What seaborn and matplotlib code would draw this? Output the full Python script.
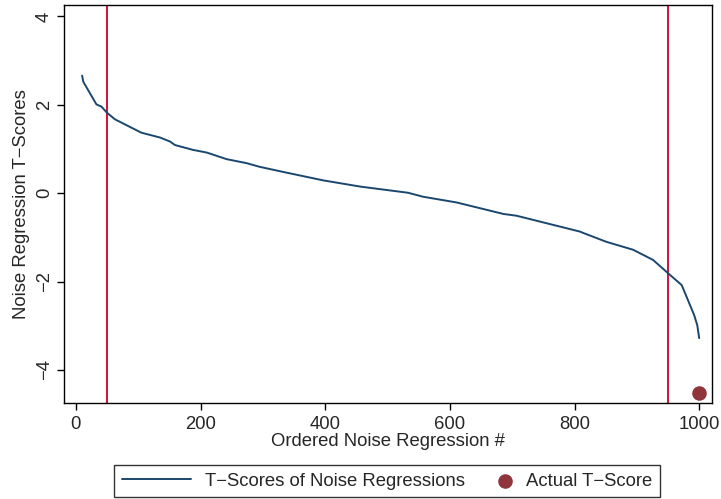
import matplotlib
matplotlib.use("Agg")
import matplotlib.pyplot as plt
from matplotlib.legend_handler import HandlerPathCollection
import pandas as pd
import seaborn as sns

# Sorted t-scores from the noise regressions
order_idx = [10, 12, 33, 41, 50, 63, 105, 135, 151, 159, 188, 210, 242, 274, 294,
             333, 397, 456, 533, 557, 611, 686, 707, 809, 814, 851, 894, 926,
             950, 972, 982, 992, 997, 1000]
t_scores = [2.66, 2.52, 2.01, 1.96, 1.82, 1.67, 1.37, 1.26, 1.17, 1.09, 0.98, 0.92,
            0.77, 0.68, 0.60, 0.48, 0.29, 0.15, 0.01, -0.08, -0.21, -0.47, -0.51,
            -0.87, -0.90, -1.10, -1.28, -1.51, -1.81, -2.08, -2.42, -2.76, -2.99,
            -3.28]

# Observed t-score and the 5%/95% cutoffs
actual_x = [1000]
actual_t = [-4.52]
cutoffs = [50, 950]

x_ticks = [0, 200, 400, 600, 800, 1000]
y_ticks = [-4, -2, 0, 2, 4]

FS = 13.3


class RightMarkerHandler(HandlerPathCollection):
    """Place the single legend marker at the right end of its handle box."""

    def get_xdata(self, legend, xdescent, ydescent, width, height, fontsize):
        x = [-xdescent + width - 5.5]
        return x, x


sns.set_theme(style="white")
plt.rcParams["font.family"] = ["Liberation Sans", "DejaVu Sans"]

navy = "#1a476f"
red = "#d0103a"
maroon = "#90353b"

fig = plt.figure(figsize=(7.21, 4.99), dpi=100)
ax = fig.add_axes([0.0888, 0.1914, 0.8982, 0.7986])

noise = pd.DataFrame({"idx": order_idx, "t": t_scores})
actual = pd.DataFrame({"idx": actual_x, "t": actual_t})

for c in cutoffs:
    ax.axvline(c, color=red, lw=1.4, zorder=1)

sns.lineplot(data=noise, x="idx", y="t", ax=ax, color=navy, lw=1.4,
             label="T\u2212Scores of Noise Regressions", zorder=3)
sns.scatterplot(data=actual, x="idx", y="t", ax=ax, color=maroon, s=110,
                edgecolor=maroon, linewidth=0, label="Actual T\u2212Score", zorder=4)

ax.set_xlim(-19, 1020)
ax.set_ylim(-4.76, 4.26)
ax.set_xticks(x_ticks)
ax.set_yticks(y_ticks)
ax.set_xticklabels([str(v) for v in x_ticks], fontsize=FS)
ax.set_yticklabels([str(v).replace("-", "\u2212") for v in y_ticks], fontsize=FS,
                   rotation=90, va="center")
ax.tick_params(axis="both", direction="out", length=5, width=1, color="black",
               bottom=True, left=True, pad=3)
ax.tick_params(axis="x", pad=4)
ax.set_xlabel("Ordered Noise Regression #", fontsize=FS, labelpad=0)
ax.set_ylabel("Noise Regression T\u2212Scores", fontsize=FS, labelpad=4)

for s in ax.spines.values():
    s.set_color("black")
    s.set_linewidth(1.0)

handles, labels = ax.get_legend_handles_labels()
ax.get_legend().remove()
leg = fig.legend(handles, labels, loc="center", bbox_to_anchor=(0.537, 0.036),
                 ncol=2, frameon=True, fancybox=False, fontsize=FS,
                 handlelength=3.73, columnspacing=-1.16, borderpad=0.42,
                 handletextpad=0.77, borderaxespad=0,
                 handler_map={type(handles[1]): RightMarkerHandler(numpoints=1)})
leg.get_frame().set_edgecolor("black")
leg.get_frame().set_linewidth(1.0)

fig.savefig("out.png", dpi=100)
